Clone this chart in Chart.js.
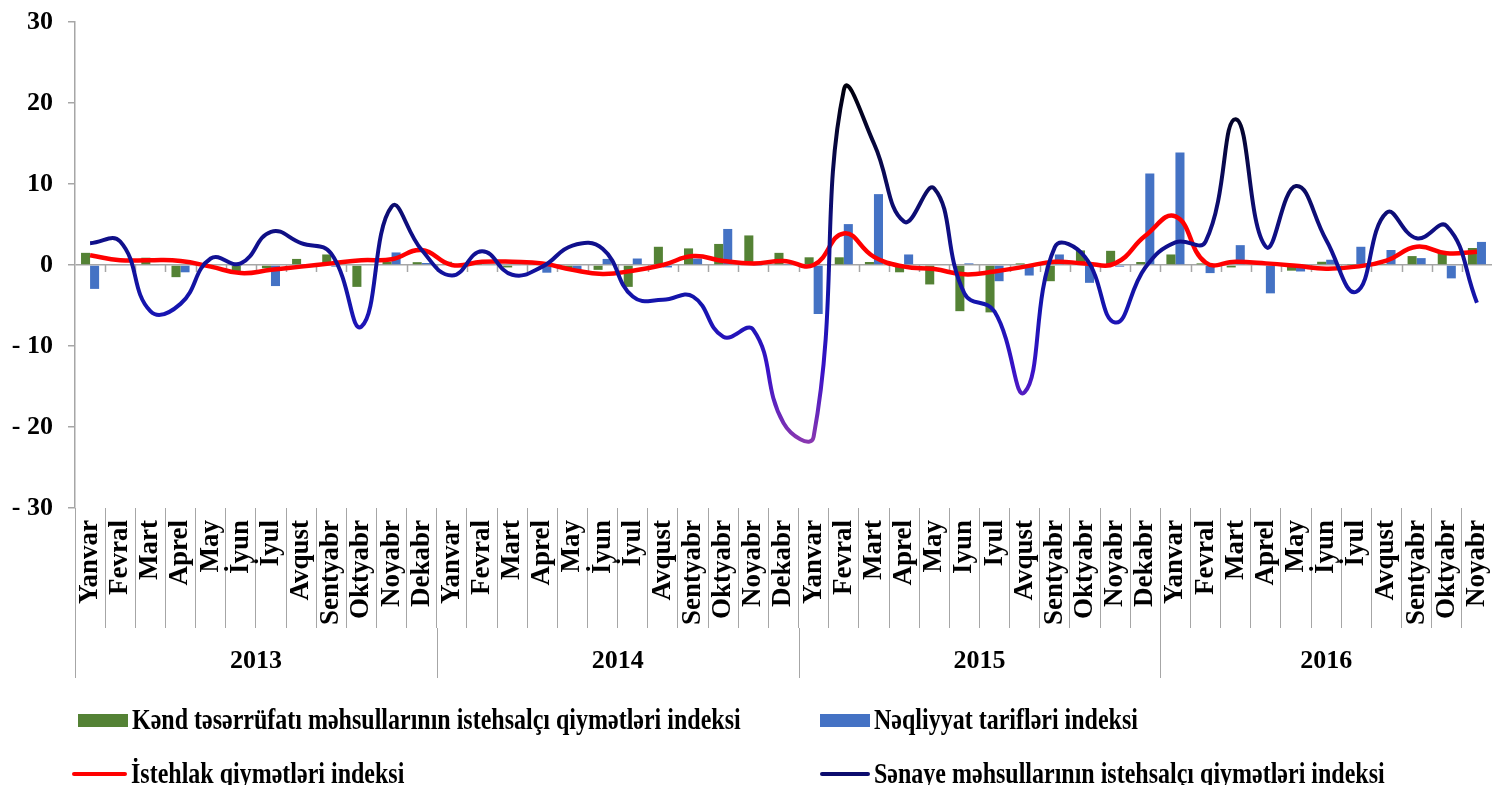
<!DOCTYPE html>
<html>
<head>
<meta charset="utf-8">
<script src="https://cdn.jsdelivr.net/npm/chart.js@4.4.0/dist/chart.umd.min.js"></script>
<style>
  html, body { margin: 0; padding: 0; background: #fff; overflow: hidden; }
  #wrap { position: relative; width: 1492px; height: 785px; }
  #chart { position: absolute; left: 0; top: 0; }
  .legend-item { position: absolute; height: 30px; display: flex; align-items: center; white-space: nowrap;
    font: bold 24px "Liberation Serif", "Times New Roman", serif; color: #000; }
  .legend-item span.txt { display: inline-block; transform: scaleY(1.2); transform-origin: left center; }
  .legend-item .box { width: 50px; height: 13px; margin-right: 4px; }
  .legend-item .line { width: 55px; height: 4px; margin-right: 4px; border-radius: 2px; }
</style>
</head>
<body>
<div id="wrap">
  <canvas id="chart" width="1492" height="785"></canvas>
</div>
<script>
document.addEventListener("DOMContentLoaded", () => {
    const FONT = '"Liberation Serif", "Times New Roman", serif';

    const years = ['2013', '2014', '2015', '2016'];
    const yearMonths = [12, 12, 12, 11];

    const months = [
        'Yanvar', 'Fevral', 'Mart', 'Aprel', 'May', 'İyun', 'İyul', 'Avqust', 'Sentyabr', 'Oktyabr', 'Noyabr', 'Dekabr',
        'Yanvar', 'Fevral', 'Mart', 'Aprel', 'May', 'İyun', 'İyul', 'Avqust', 'Sentyabr', 'Oktyabr', 'Noyabr', 'Dekabr',
        'Yanvar', 'Fevral', 'Mart', 'Aprel', 'May', 'Iyun', 'Iyul', 'Avqust', 'Sentyabr', 'Oktyabr', 'Noyabr', 'Dekabr',
        'Yanvar', 'Fevral', 'Mart', 'Aprel', 'May', 'İyun', 'İyul', 'Avqust', 'Sentyabr', 'Oktyabr', 'Noyabr'
    ];

    const seriesNames = [
        'Kənd təsərrüfatı məhsullarının istehsalçı qiymətləri indeksi',
        'Nəqliyyat tarifləri indeksi',
        'İstehlak qiymətləri indeksi',
        'Sənaye məhsullarının istehsalçı qiymətləri indeksi'
    ];

    // Kənd təsərrüfatı (green bars)
    const agriIndex = [
        1.5, -0.1, 0.9, -1.5, 0.1, -0.8, -0.4, 0.75, 1.3, -2.7, 0.4, 0.35,
        0.4, 0.05, -0.3, 0.05, -0.5, -0.6, -2.7, 2.25, 2.05, 2.6, 3.65, 1.5,
        0.95, 0.95, 0.37, -0.9, -2.4, -5.7, -5.85, 0.2, -2.0, 1.8, 1.75, 0.37,
        1.3, 0.2, -0.3, 0.05, -0.7, 0.4, 0.05, 0.05, 1.1, 1.7, 2.1
    ];

    // Nəqliyyat tarifləri (blue bars)
    const transportIndex = [
        -2.95, -0.1, -0.1, -0.9, 0, 0, -2.6, 0.05, -0.2, 0, 1.55, 0.25,
        0, 0, -0.1, -0.95, -0.6, 0.75, 0.8, -0.3, 0.8, 4.45, -0.05, 0.05,
        -6.05, 5.05, 8.75, 1.3, 0, 0.2, -2.0, -1.3, 1.3, -2.2, -0.2, 11.3,
        13.9, -1.0, 2.45, -3.5, -0.8, 0.65, 2.25, 1.85, 0.85, -1.65, 2.85
    ];

    // İstehlak qiymətləri (red line)
    const consumerIndex = [
        1.2, 0.6, 0.6, 0.5, -0.2, -1.0, -0.6, -0.2, 0.2, 0.6, 0.7, 1.85,
        0.0, 0.4, 0.4, 0.2, -0.6, -1.1, -0.7, 0.0, 1.1, 0.5, 0.2, 0.5,
        0.0, 3.9, 1.0, -0.2, -0.5, -1.15, -0.8, -0.2, 0.4, 0.2, 0.2, 3.6,
        6.0, 0.3, 0.4, 0.2, -0.1, -0.45, -0.2, 0.55, 2.25, 1.45, 1.65
    ];

    // Sənaye məhsulları (navy line)
    const industryIndex = [
        2.7, 2.9, -5.7, -4.8, 0.8, 0.2, 4.1, 2.7, 1.4, -7.6, 7.2, 1.85,
        -1.3, 1.7, -1.2, -0.2, 2.4, 2.0, -3.9, -4.3, -3.9, -8.85, -8.0, -19.5,
        -21.2, 21.6, 15.0, 5.35, 9.45, -3.5, -5.75, -15.7, 2.2, 1.0, -7.1, -0.3,
        2.8, 2.9, 18.0, 2.25, 9.75, 3.1, -3.3, 6.45, 3.3, 4.8, -4.65
    ];

    const yTicks = [-30, -20, -10, 0, 10, 20, 30];

    const AXIS_GRAY = '#a6a6a6';

    // pixel of the boundary before category i
    function edgePixel(xs, i) {
        const n = xs.ticks.length;
        if (i <= 0) return xs.left;
        if (i >= n) return xs.right;
        return (xs.getPixelForTick(i - 1) + xs.getPixelForTick(i)) / 2;
    }

    // Small tick marks on the zero line, year row below the month labels
    const axisExtras = {
        id: 'axisExtras',
        beforeDatasetsDraw(chart) {
            const xs = chart.scales.x, ys = chart.scales.y, ctx = chart.ctx;
            const y0 = ys.getPixelForValue(0);
            ctx.save();
            ctx.strokeStyle = AXIS_GRAY;
            ctx.lineWidth = 1.5;
            for (let i = 1; i < xs.ticks.length; i++) {
                const px = Math.round(edgePixel(xs, i)) + 0.5;
                ctx.beginPath();
                ctx.moveTo(px, y0);
                ctx.lineTo(px, y0 + 7);
                ctx.stroke();
            }
            ctx.restore();
        },
        afterDraw(chart) {
            const xs = chart.scales.x, ctx = chart.ctx;
            const top = chart.chartArea.bottom;
            ctx.save();
            ctx.strokeStyle = AXIS_GRAY;
            ctx.lineWidth = 1;
            ctx.fillStyle = '#000';
            ctx.font = 'bold 26px ' + FONT;
            ctx.textAlign = 'center';
            ctx.textBaseline = 'middle';
            let start = 0;
            years.forEach((yr, k) => {
                const left = edgePixel(xs, start);
                const right = edgePixel(xs, start + yearMonths[k]);
                const px = Math.round(left) + 0.5;
                ctx.beginPath();
                ctx.moveTo(px, k === 0 ? top : top + 120);
                ctx.lineTo(px, top + 170);
                ctx.stroke();
                ctx.fillText(yr, (left + right) / 2, top + 153);
                start += yearMonths[k];
            });
            ctx.restore();
        }
    };

    const industryGradient = (c) => {
        const chart = c.chart;
        if (!chart.chartArea) return '#10108a';
        const ys = chart.scales.y;
        const g = chart.ctx.createLinearGradient(0, ys.getPixelForValue(22), 0, ys.getPixelForValue(-22));
        g.addColorStop(0, '#00000c');
        g.addColorStop(0.25, '#0a0a58');
        g.addColorStop(0.45, '#10108e');
        g.addColorStop(0.62, '#1515b0');
        g.addColorStop(0.8, '#3a12c8');
        g.addColorStop(1, '#8a38b0');
        return g;
    };

    const chart = new Chart(document.getElementById('chart'), {
        data: {
            labels: months,
            datasets: [
                {
                    type: 'bar', label: seriesNames[0], data: agriIndex,
                    backgroundColor: '#548235', categoryPercentage: 0.6, barPercentage: 1.0, order: 3
                },
                {
                    type: 'bar', label: seriesNames[1], data: transportIndex,
                    backgroundColor: '#4472c4', categoryPercentage: 0.6, barPercentage: 1.0, order: 3
                },
                {
                    type: 'line', label: seriesNames[2], data: consumerIndex,
                    borderColor: '#ff0000', backgroundColor: '#ff0000', borderWidth: 4.5,
                    pointRadius: 0, tension: 0.45, fill: false, order: 1
                },
                {
                    type: 'line', label: seriesNames[3], data: industryIndex,
                    borderColor: industryGradient, backgroundColor: '#0c0c6e', borderWidth: 4,
                    pointRadius: 0, tension: 0.45, fill: false, order: 0
                }
            ]
        },
        options: {
            responsive: false,
            animation: false,
            layout: { padding: { top: 22, right: 0, bottom: 105, left: 0 } },
            plugins: { legend: { display: false }, tooltip: { enabled: false } },
            scales: {
                x: {
                    offset: true,
                    grid: { display: true, offset: true, drawOnChartArea: false, drawTicks: true,
                            tickLength: 120, color: AXIS_GRAY, lineWidth: 1 },
                    border: { display: false },
                    ticks: { autoSkip: false, minRotation: 90, maxRotation: 90, padding: -108,
                             color: '#000', font: { family: FONT, size: 27, weight: 'bold' } },
                    afterFit: (s) => { s.height = 172; }
                },
                y: {
                    min: -30, max: 30,
                    afterBuildTicks: (s) => { s.ticks = yTicks.map(v => ({ value: v })); },
                    grid: {
                        drawOnChartArea: true,
                        color: (c) => (c.tick && c.tick.value === 0 ? AXIS_GRAY : 'rgba(0,0,0,0)'),
                        tickColor: AXIS_GRAY, tickLength: 7, lineWidth: 1.5
                    },
                    border: { display: true, color: AXIS_GRAY, width: 1.5 },
                    ticks: {
                        padding: 15, color: '#000',
                        font: { family: FONT, size: 26, weight: 'bold' },
                        callback: (v) => (v < 0 ? '- ' + Math.abs(v) : String(v))
                    },
                    afterFit: (s) => { s.width = 75; s.paddingTop = 0; }
                }
            }
        },
        plugins: [axisExtras]
    });

    // HTML legend, two columns by two rows, built from the datasets
    const wrap = document.getElementById('wrap');
    const slots = [
        { left: 78, top: 705 }, { left: 820, top: 705 },
        { left: 72, top: 759 }, { left: 820, top: 759 }
    ];
    chart.data.datasets.forEach((ds, i) => {
        const item = document.createElement('div');
        item.className = 'legend-item';
        item.style.left = slots[i].left + 'px';
        item.style.top = slots[i].top + 'px';
        const mark = document.createElement('div');
        mark.className = ds.type === 'bar' ? 'box' : 'line';
        mark.style.background = ds.backgroundColor;
        if (ds.type !== 'bar' && i === 3) mark.style.width = '50px';
        const txt = document.createElement('span');
        txt.className = 'txt';
        txt.textContent = ds.label;
        item.appendChild(mark);
        item.appendChild(txt);
        wrap.appendChild(item);
    });
});
</script>
</body>
</html>
